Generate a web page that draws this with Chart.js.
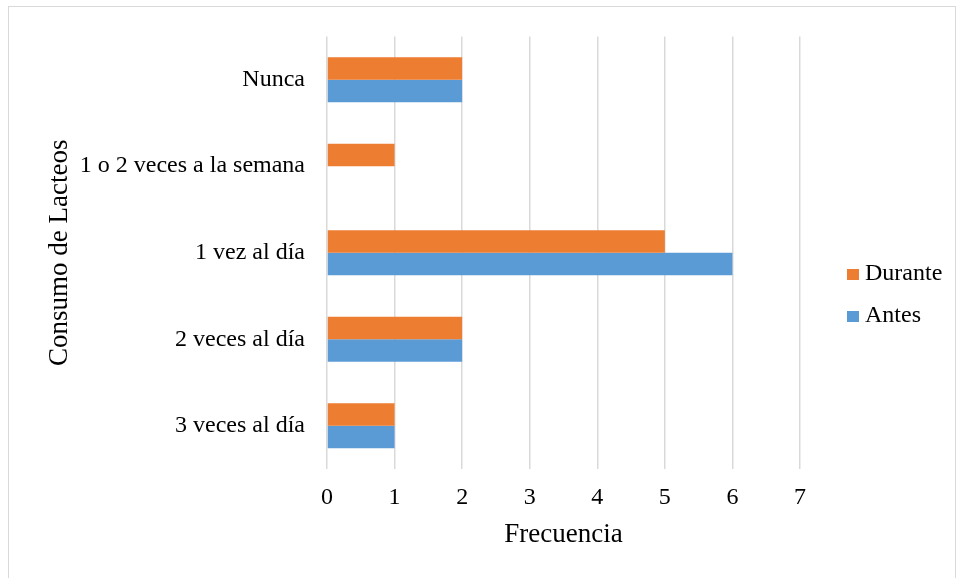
<!DOCTYPE html>
<html>
<head>
<meta charset="utf-8">
<script src="https://cdn.jsdelivr.net/npm/chart.js@4.4.1/dist/chart.umd.min.js"></script>
<style>
  html, body { margin: 0; padding: 0; background: #fff; overflow: hidden; }
  #wrap { position: relative; width: 958px; height: 578px; }
  #frame { position: absolute; left: 8px; top: 6px; width: 948px; height: 600px; border: 1px solid #d9d9d9; box-sizing: border-box; }
  #myChart { position: absolute; left: 0; top: 0; }
</style>
</head>
<body>
<div id="wrap">
  <div id="frame"></div>
  <canvas id="myChart" width="958" height="578"></canvas>
</div>
<script>
const categories = ['Nunca', '1 o 2 veces a la semana', '1 vez al día', '2 veces al día', '3 veces al día'];
const durante = [2, 1, 5, 2, 1];
const antes = [2, 0, 6, 2, 1];
const xTicks = [0, 1, 2, 3, 4, 5, 6, 7];

const serif = "'Liberation Serif', 'Times New Roman', serif";

// legend drawn to the right, like the Excel original
const sideLegend = {
  id: 'sideLegend',
  afterDraw(chart) {
    const ctx = chart.ctx;
    ctx.save();
    ctx.font = '24px ' + serif;
    ctx.textBaseline = 'middle';
    ctx.textAlign = 'left';
    chart.data.datasets.forEach(function (ds, i) {
      const y = 274 + i * 42;
      ctx.fillStyle = ds.backgroundColor;
      ctx.fillRect(847, y - 5, 12, 11);
      ctx.fillStyle = '#000';
      ctx.fillText(ds.label, 865, y);
    });
    ctx.restore();
  }
};

const ctx = document.getElementById('myChart').getContext('2d');

var graphData = {
  type: 'bar',
  data: {
    labels: categories,
    datasets: [{
      label: 'Durante',
      backgroundColor: '#ED7D31',
      data: durante,
    }, {
      label: 'Antes',
      backgroundColor: '#5B9BD5',
      data: antes,
    }]
  },
  options: {
    indexAxis: 'y',
    responsive: false,
    animation: false,
    categoryPercentage: 0.52,
    barPercentage: 1,
    layout: { padding: { left: 0, top: 35, right: 158, bottom: 0 } },
    plugins: {
      legend: { display: false },
      tooltip: { enabled: false }
    },
    scales: {
      x: {
        min: 0,
        max: 7,
        afterBuildTicks: function (s) { s.ticks = xTicks.map(v => ({ value: v })); },
        afterFit: function (s) { s.height = 109; },
        grid: { color: '#d9d9d9', lineWidth: 1.5, drawTicks: false },
        border: { display: false },
        ticks: { color: '#000', padding: 14, font: { family: serif, size: 24 } },
        title: {
          display: true,
          text: 'Frecuencia',
          color: '#000',
          padding: { top: 0, bottom: 27 },
          font: { family: serif, size: 27 }
        }
      },
      y: {
        afterFit: function (s) { s.width = 327; },
        grid: { display: false, drawTicks: false },
        border: { display: false },
        ticks: { color: '#000', padding: 22, font: { family: serif, size: 24 } },
        title: {
          display: true,
          text: 'Consumo de Lacteos',
          color: '#000',
          padding: { top: 44, bottom: 0 },
          font: { family: serif, size: 27 }
        }
      }
    }
  },
  plugins: [sideLegend]
};

var myChart = new Chart(ctx, graphData);
</script>
</body>
</html>
